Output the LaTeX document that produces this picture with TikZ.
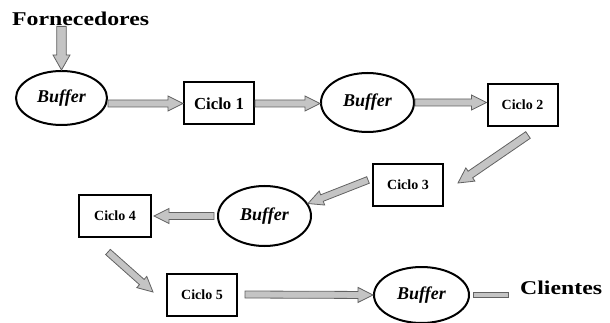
\documentclass[tikz,border=0pt]{standalone}
\usepackage{fontspec}
\usepackage{graphicx}
\setmainfont{Liberation Serif}
\usetikzlibrary{calc,shapes.geometric}
\definecolor{afill}{HTML}{C4C4C4}
\definecolor{aline}{HTML}{626262}
\tikzset{
  cbox/.style={draw=black, line width=2pt, minimum width=70pt, minimum height=42pt, inner sep=0pt, font=\bfseries\fontsize{14}{16}\selectfont},
  buf/.style={draw=black, ellipse, line width=2pt, inner sep=0pt, font=\bfseries\itshape\fontsize{18}{20}\selectfont},
  blockarrow/.style={draw=aline, fill=afill, line width=0.8pt, line join=miter},
  bigtxt/.style={inner sep=0pt, anchor=base west, font=\bfseries\fontsize{19.5}{21}\selectfont}
}
% \barrow[shaft half width][head half width]{from}{to}
\newcommand\barrow[4][3.5pt]{\barrowint{#1}{#2}{#3}{#4}}
\newcommand\barrowint[4]{%
  \path[blockarrow] let \p1=#3, \p2=#4, \n1={atan2(\y2-\y1,\x2-\x1)}, \n2={veclen(\x2-\x1,\y2-\y1)} in
    ($(\p1)+(\n1+90:#1)$) -- ++(\n1:\n2-15pt) -- ($(\p2)+(\n1+180:15pt)+(\n1+90:#2)$) -- (\p2)
    -- ($(\p2)+(\n1+180:15pt)+(\n1-90:#2)$) -- ($(\p2)+(\n1+180:15pt)+(\n1-90:#1)$)
    -- ($(\p1)+(\n1-90:#1)$) -- cycle;}
\begin{document}
\begin{tikzpicture}[x=1pt,y=1pt]
\fill[white] (0,0) rectangle (610,-323);
\useasboundingbox (0,0) rectangle (610,-323);

\node[bigtxt] (forn) at (12,-26) {\scalebox{1.22}[1]{Fornecedores}};
\node[bigtxt] (cli) at (520,-294) {\scalebox{1.22}[1]{Clientes}};

\node[buf, minimum width=91pt, minimum height=54pt] (b1) at (61.5,-98) {Buffer\hspace{12pt}};
\node[cbox, font=\bfseries\fontsize{16.8}{18}\selectfont] (c1) at (219,-103.5) {Ciclo 1};
\node[buf, minimum width=93pt, minimum height=59pt] (b2) at (367.5,-102.5) {Buffer\hspace{6pt}};
\node[cbox] (c2) at (522.5,-105) {Ciclo 2\hspace{10pt}};
\node[cbox] (c3) at (408,-185) {Ciclo 3\hspace{10pt}};
\node[buf, minimum width=93pt, minimum height=60pt] (b3) at (264.5,-216) {Buffer};
\node[cbox, minimum width=72pt] (c4) at (115,-216) {Ciclo 4\hspace{10pt}};
\node[cbox] (c5) at (202,-294.5) {Ciclo 5\hspace{10pt}};
\node[buf, minimum width=95pt, minimum height=56pt] (b4) at (421.5,-295) {Buffer};

\coordinate (a5s) at ($(c2.south)+(5.5,-8)$);
\coordinate (a5e) at ($(c3.east)+(14,2)$);
\coordinate (a8s) at ($(c4.south)+(-7,-14)$);
\coordinate (a8e) at ($(c5.west)+(-13,2.5)$);

\barrow[4.8pt]{8.5pt}{(b1.north |- forn.south)}{(b1.north)}
\barrow{7.5pt}{(b1.east |- c1.west)}{(c1.west)}
\barrow{7.5pt}{(c1.east)}{(b2.west |- c1.east)}
\barrow{7.5pt}{(b2.east)}{(c2.west |- b2.east)}
\barrow[4pt]{8pt}{(a5s)}{(a5e)}
\barrow{7.5pt}{($(c3.west)+(-4,5)$)}{(b3.16)}
\barrow{7.5pt}{($(b3.west)+(-3,0)$)}{($(c4.east)+(2,0)$)}
\barrow{7.5pt}{(a8s)}{(a8e)}
\barrow{7.5pt}{($(c5.east)+(7,0)$)}{(b4.west)}
\path[blockarrow] ($(b4.east)+(3,2.6)$) rectangle ($(cli.west |- b4.east)+(-12,-2.6)$);
\end{tikzpicture}
\end{document}
